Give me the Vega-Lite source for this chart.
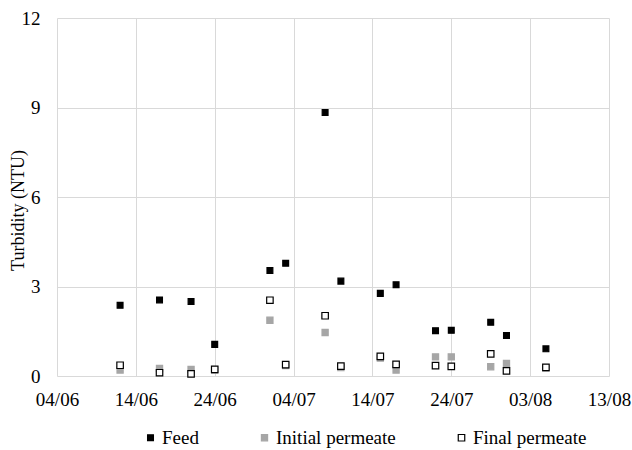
{
  "$schema": "https://vega.github.io/schema/vega-lite/v6.json",
  "autosize": "none",
  "width": 552,
  "height": 358,
  "padding": {"left": 57, "top": 18, "right": 23, "bottom": 74},
  "background": "white",
  "data": {
    "values": [
      {"date": "2019-06-12T00:00:00", "series": "Feed", "turbidity": 2.37},
      {"date": "2019-06-17T00:00:00", "series": "Feed", "turbidity": 2.55},
      {"date": "2019-06-21T00:00:00", "series": "Feed", "turbidity": 2.5},
      {"date": "2019-06-24T00:00:00", "series": "Feed", "turbidity": 1.06},
      {"date": "2019-07-01T00:00:00", "series": "Feed", "turbidity": 3.54},
      {"date": "2019-07-03T00:00:00", "series": "Feed", "turbidity": 3.78},
      {"date": "2019-07-08T00:00:00", "series": "Feed", "turbidity": 8.83},
      {"date": "2019-07-10T00:00:00", "series": "Feed", "turbidity": 3.18},
      {"date": "2019-07-15T00:00:00", "series": "Feed", "turbidity": 2.77},
      {"date": "2019-07-17T00:00:00", "series": "Feed", "turbidity": 3.06},
      {"date": "2019-07-22T00:00:00", "series": "Feed", "turbidity": 1.52},
      {"date": "2019-07-24T00:00:00", "series": "Feed", "turbidity": 1.53},
      {"date": "2019-07-29T00:00:00", "series": "Feed", "turbidity": 1.8},
      {"date": "2019-07-31T00:00:00", "series": "Feed", "turbidity": 1.36},
      {"date": "2019-08-05T00:00:00", "series": "Feed", "turbidity": 0.91},
      {"date": "2019-06-12T00:00:00", "series": "Initial permeate", "turbidity": 0.2},
      {"date": "2019-06-17T00:00:00", "series": "Initial permeate", "turbidity": 0.25},
      {"date": "2019-06-21T00:00:00", "series": "Initial permeate", "turbidity": 0.22},
      {"date": "2019-06-24T00:00:00", "series": "Initial permeate", "turbidity": 0.2},
      {"date": "2019-07-01T00:00:00", "series": "Initial permeate", "turbidity": 1.87},
      {"date": "2019-07-03T00:00:00", "series": "Initial permeate", "turbidity": 0.35},
      {"date": "2019-07-08T00:00:00", "series": "Initial permeate", "turbidity": 1.46},
      {"date": "2019-07-10T00:00:00", "series": "Initial permeate", "turbidity": 0.28},
      {"date": "2019-07-15T00:00:00", "series": "Initial permeate", "turbidity": 0.6},
      {"date": "2019-07-17T00:00:00", "series": "Initial permeate", "turbidity": 0.2},
      {"date": "2019-07-22T00:00:00", "series": "Initial permeate", "turbidity": 0.64},
      {"date": "2019-07-24T00:00:00", "series": "Initial permeate", "turbidity": 0.64},
      {"date": "2019-07-29T00:00:00", "series": "Initial permeate", "turbidity": 0.31},
      {"date": "2019-07-31T00:00:00", "series": "Initial permeate", "turbidity": 0.42},
      {"date": "2019-08-05T00:00:00", "series": "Initial permeate", "turbidity": 0.27},
      {"date": "2019-06-12T00:00:00", "series": "Final permeate", "turbidity": 0.36},
      {"date": "2019-06-17T00:00:00", "series": "Final permeate", "turbidity": 0.11},
      {"date": "2019-06-21T00:00:00", "series": "Final permeate", "turbidity": 0.07},
      {"date": "2019-06-24T00:00:00", "series": "Final permeate", "turbidity": 0.22},
      {"date": "2019-07-01T00:00:00", "series": "Final permeate", "turbidity": 2.54},
      {"date": "2019-07-03T00:00:00", "series": "Final permeate", "turbidity": 0.38},
      {"date": "2019-07-08T00:00:00", "series": "Final permeate", "turbidity": 2.02},
      {"date": "2019-07-10T00:00:00", "series": "Final permeate", "turbidity": 0.33},
      {"date": "2019-07-15T00:00:00", "series": "Final permeate", "turbidity": 0.66},
      {"date": "2019-07-17T00:00:00", "series": "Final permeate", "turbidity": 0.39},
      {"date": "2019-07-22T00:00:00", "series": "Final permeate", "turbidity": 0.35},
      {"date": "2019-07-24T00:00:00", "series": "Final permeate", "turbidity": 0.32},
      {"date": "2019-07-29T00:00:00", "series": "Final permeate", "turbidity": 0.74},
      {"date": "2019-07-31T00:00:00", "series": "Final permeate", "turbidity": 0.17},
      {"date": "2019-08-05T00:00:00", "series": "Final permeate", "turbidity": 0.29}
    ]
  },
  "mark": {"type": "point", "shape": "square", "filled": true, "opacity": 1, "strokeWidth": 1.2},
  "encoding": {
    "x": {
      "field": "date",
      "type": "temporal",
      "scale": {
        "domain": [
          {"year": 2019, "month": 6, "date": 4},
          {"year": 2019, "month": 8, "date": 13}
        ]
      },
      "axis": {
        "title": null,
        "format": "%d/%m",
        "values": [
          {"year": 2019, "month": 6, "date": 4},
          {"year": 2019, "month": 6, "date": 14},
          {"year": 2019, "month": 6, "date": 24},
          {"year": 2019, "month": 7, "date": 4},
          {"year": 2019, "month": 7, "date": 14},
          {"year": 2019, "month": 7, "date": 24},
          {"year": 2019, "month": 8, "date": 3},
          {"year": 2019, "month": 8, "date": 13}
        ],
        "grid": true,
        "gridColor": "#d9d9d9",
        "gridWidth": 1,
        "domain": false,
        "ticks": false,
        "labelPadding": 14,
        "labelFont": "Liberation Serif",
        "labelFontSize": 19,
        "labelColor": "#000000",
        "labelFlush": false,
        "labelOverlap": false
      }
    },
    "y": {
      "field": "turbidity",
      "type": "quantitative",
      "scale": {"domain": [0, 12], "nice": false, "zero": true},
      "axis": {
        "title": "Turbidity (NTU)",
        "titleFont": "Liberation Serif",
        "titleFontSize": 18,
        "titleFontWeight": "normal",
        "titleColor": "#000000",
        "titleAngle": -90,
        "titleBaseline": "alphabetic",
        "titleAlign": "center",
        "titleX": -34,
        "titleY": 192,
        "values": [0, 3, 6, 9, 12],
        "grid": true,
        "gridColor": "#d9d9d9",
        "gridWidth": 1,
        "domain": false,
        "ticks": false,
        "labelPadding": 17,
        "labelFont": "Liberation Serif",
        "labelFontSize": 19,
        "labelColor": "#000000"
      }
    },
    "fill": {
      "field": "series",
      "type": "nominal",
      "scale": {
        "domain": ["Feed", "Initial permeate", "Final permeate"],
        "range": ["#000000", "#a6a6a6", "#ffffff"]
      },
      "legend": {
        "title": null,
        "orient": "none",
        "direction": "horizontal",
        "legendX": 84,
        "legendY": 410,
        "columnPadding": 56,
        "labelFont": "Liberation Serif",
        "labelFontSize": 19,
        "labelColor": "#000000",
        "labelOffset": 2,
        "symbolType": "square",
        "symbolStrokeWidth": 1.2
      }
    },
    "stroke": {
      "field": "series",
      "type": "nominal",
      "scale": {
        "domain": ["Feed", "Initial permeate", "Final permeate"],
        "range": ["#000000", "#a6a6a6", "#000000"]
      },
      "legend": {
        "title": null,
        "orient": "none",
        "direction": "horizontal",
        "legendX": 84,
        "legendY": 410,
        "columnPadding": 56,
        "labelFont": "Liberation Serif",
        "labelFontSize": 19,
        "labelColor": "#000000",
        "labelOffset": 2,
        "symbolType": "square",
        "symbolStrokeWidth": 1.2
      }
    },
    "size": {
      "field": "series",
      "type": "nominal",
      "scale": {
        "domain": ["Feed", "Initial permeate", "Final permeate"],
        "range": [34, 42, 60]
      },
      "legend": {
        "title": null,
        "orient": "none",
        "direction": "horizontal",
        "legendX": 84,
        "legendY": 410,
        "columnPadding": 56,
        "labelFont": "Liberation Serif",
        "labelFontSize": 19,
        "labelColor": "#000000",
        "labelOffset": 2,
        "symbolType": "square",
        "symbolStrokeWidth": 1.2
      }
    }
  },
  "config": {"view": {"stroke": null}}
}
